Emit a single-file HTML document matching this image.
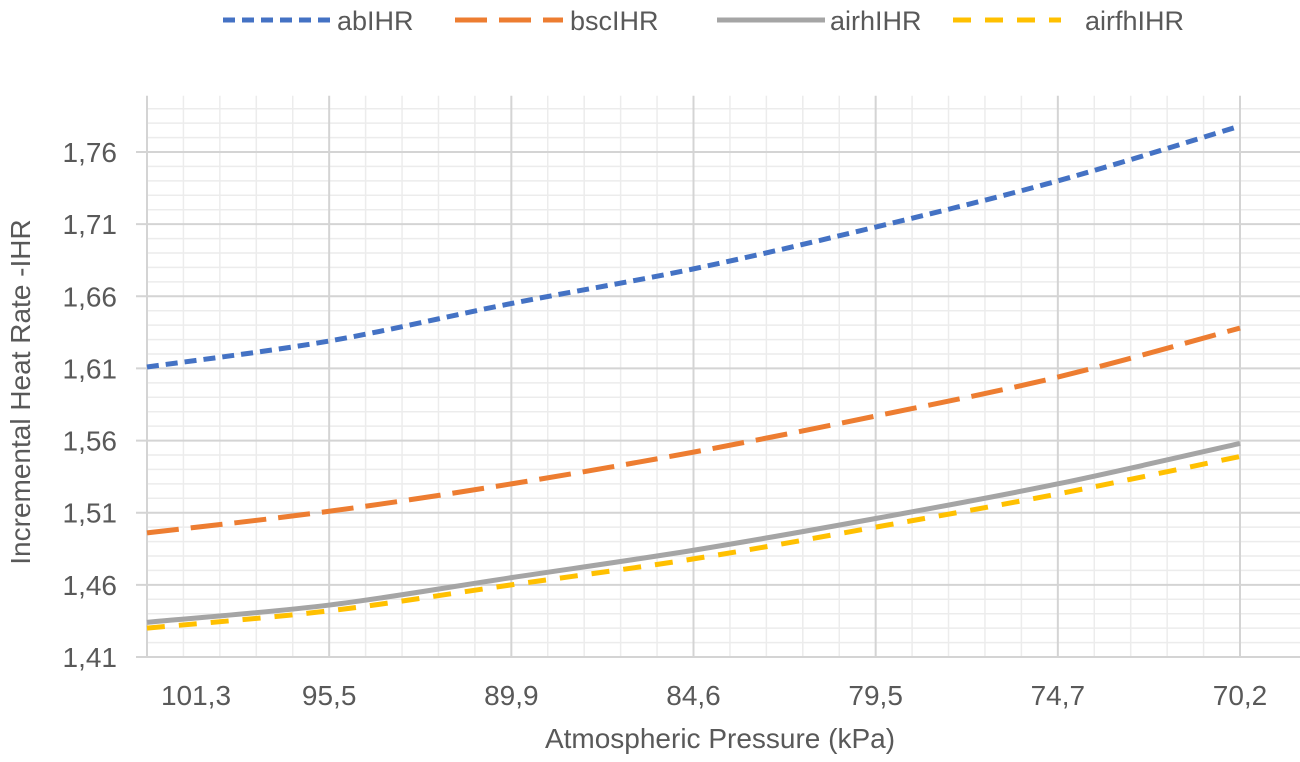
<!DOCTYPE html>
<html><head><meta charset="utf-8"><style>
body{margin:0;background:#fff;}
svg{display:block;font-family:"Liberation Sans",Calibri,sans-serif;}
</style></head><body>
<svg id="chart" width="1300" height="762">
<g id="grid"></g>
<g id="axes"></g>
<g id="series"></g>
<g id="legend"></g>
<text x="30" y="392" transform="rotate(-90 30 392)" text-anchor="middle" font-size="28" fill="#595959">Incremental Heat Rate -IHR</text>
<text x="720" y="748" text-anchor="middle" font-size="28" fill="#595959">Atmospheric Pressure (kPa)</text>
</svg>
<script>
const categories=["101,3","95,5","89,9","84,6","79,5","74,7","70,2"];
const yTicks=[1.41,1.46,1.51,1.56,1.61,1.66,1.71,1.76];
const seriesNames=["abIHR","bscIHR","airhIHR","airfhIHR"];
const abIHR=[1.611,1.629,1.655,1.679,1.708,1.740,1.778];
const bscIHR=[1.496,1.511,1.530,1.552,1.577,1.604,1.638];
const airhIHR=[1.434,1.446,1.465,1.484,1.506,1.530,1.558];
const airfhIHR=[1.430,1.442,1.460,1.478,1.500,1.523,1.549];
const NS="http://www.w3.org/2000/svg";
const X0=147,X1=1240,Y0=657,Ymin=1.41,Ymax=1.799;
const pxPerUnit=(657-152)/0.35;
function xs(i){return X0+(X1-X0)*i/(categories.length-1);}
function ys(v){return Y0-(v-Ymin)*pxPerUnit;}
function mk(tag,attrs,parent){const e=document.createElementNS(NS,tag);for(const k in attrs)e.setAttribute(k,attrs[k]);parent.appendChild(e);return e;}
const grid=document.getElementById('grid'),axes=document.getElementById('axes'),ser=document.getElementById('series'),leg=document.getElementById('legend');
const topY=ys(Ymax);
for(let i=0;i<(categories.length-1)*5;i++){const x=X0+(X1-X0)*i/((categories.length-1)*5);if(i%5){const l=mk('line',{x1:x,x2:x,y1:topY,y2:Y0,stroke:'#ececec','stroke-width':1.5},grid);}}
for(let k=1;k<Math.round((Ymax-Ymin)*100);k++){if(k%5){const y=ys(Ymin+k/100);const l=mk('line',{x1:X0,x2:X1+60,y1:y,y2:y,stroke:'#ececec','stroke-width':1.5},grid);}}
yTicks.forEach(v=>{const y=ys(v);const l=mk('line',{x1:136,x2:X1+60,y1:y,y2:y,stroke:'#d4d4d4','stroke-width':2},grid);
const t=mk('text',{x:117,y:y+10,'text-anchor':'end','font-size':28,fill:'#595959'},axes);t.textContent=v.toFixed(2).replace('.',',');});
categories.forEach((c,i)=>{const x=xs(i);const l=mk('line',{x1:x,x2:x,y1:topY,y2:Y0,stroke:'#d4d4d4','stroke-width':2},grid);
const lx=i===0?196:x;const t=mk('text',{x:lx,y:705,'text-anchor':'middle','font-size':28,fill:'#595959'},axes);t.textContent=c;});
const styles=[{c:'#4472c4',d:'12 7',w:5},{c:'#ed7d31',d:'32 12',w:5},{c:'#a5a5a5',d:'',w:5},{c:'#ffc000',d:'18 14',w:5}];
const data=[abIHR,bscIHR,airhIHR,airfhIHR];
function smooth(pts){let d='M'+pts[0][0]+','+pts[0][1];for(let i=0;i<pts.length-1;i++){const p0=pts[Math.max(0,i-1)],p1=pts[i],p2=pts[i+1],p3=pts[Math.min(pts.length-1,i+2)];const c1=[p1[0]+(p2[0]-p0[0])/6,p1[1]+(p2[1]-p0[1])/6],c2=[p2[0]-(p3[0]-p1[0])/6,p2[1]-(p3[1]-p1[1])/6];d+=' C'+c1+' '+c2+' '+p2;}return d;}
data.forEach((arr,s)=>{const pts=arr.map((v,i)=>[xs(i),ys(v)]);const p=mk('path',{d:smooth(pts),fill:'none',stroke:styles[s].c,'stroke-width':styles[s].w,'stroke-dasharray':styles[s].d},ser);});
const lx=[223,455,717,953];
const tx=[337,570,830,1085];
seriesNames.forEach((n,s)=>{const g=mk('g',{},leg);
mk('line',{x1:lx[s],x2:lx[s]+108,y1:20,y2:20,stroke:styles[s].c,'stroke-width':5,'stroke-dasharray':styles[s].d},g);
const t=mk('text',{x:tx[s],y:30,'font-size':27,fill:'#595959'},g);t.textContent=n;});
</script>
</body></html>
